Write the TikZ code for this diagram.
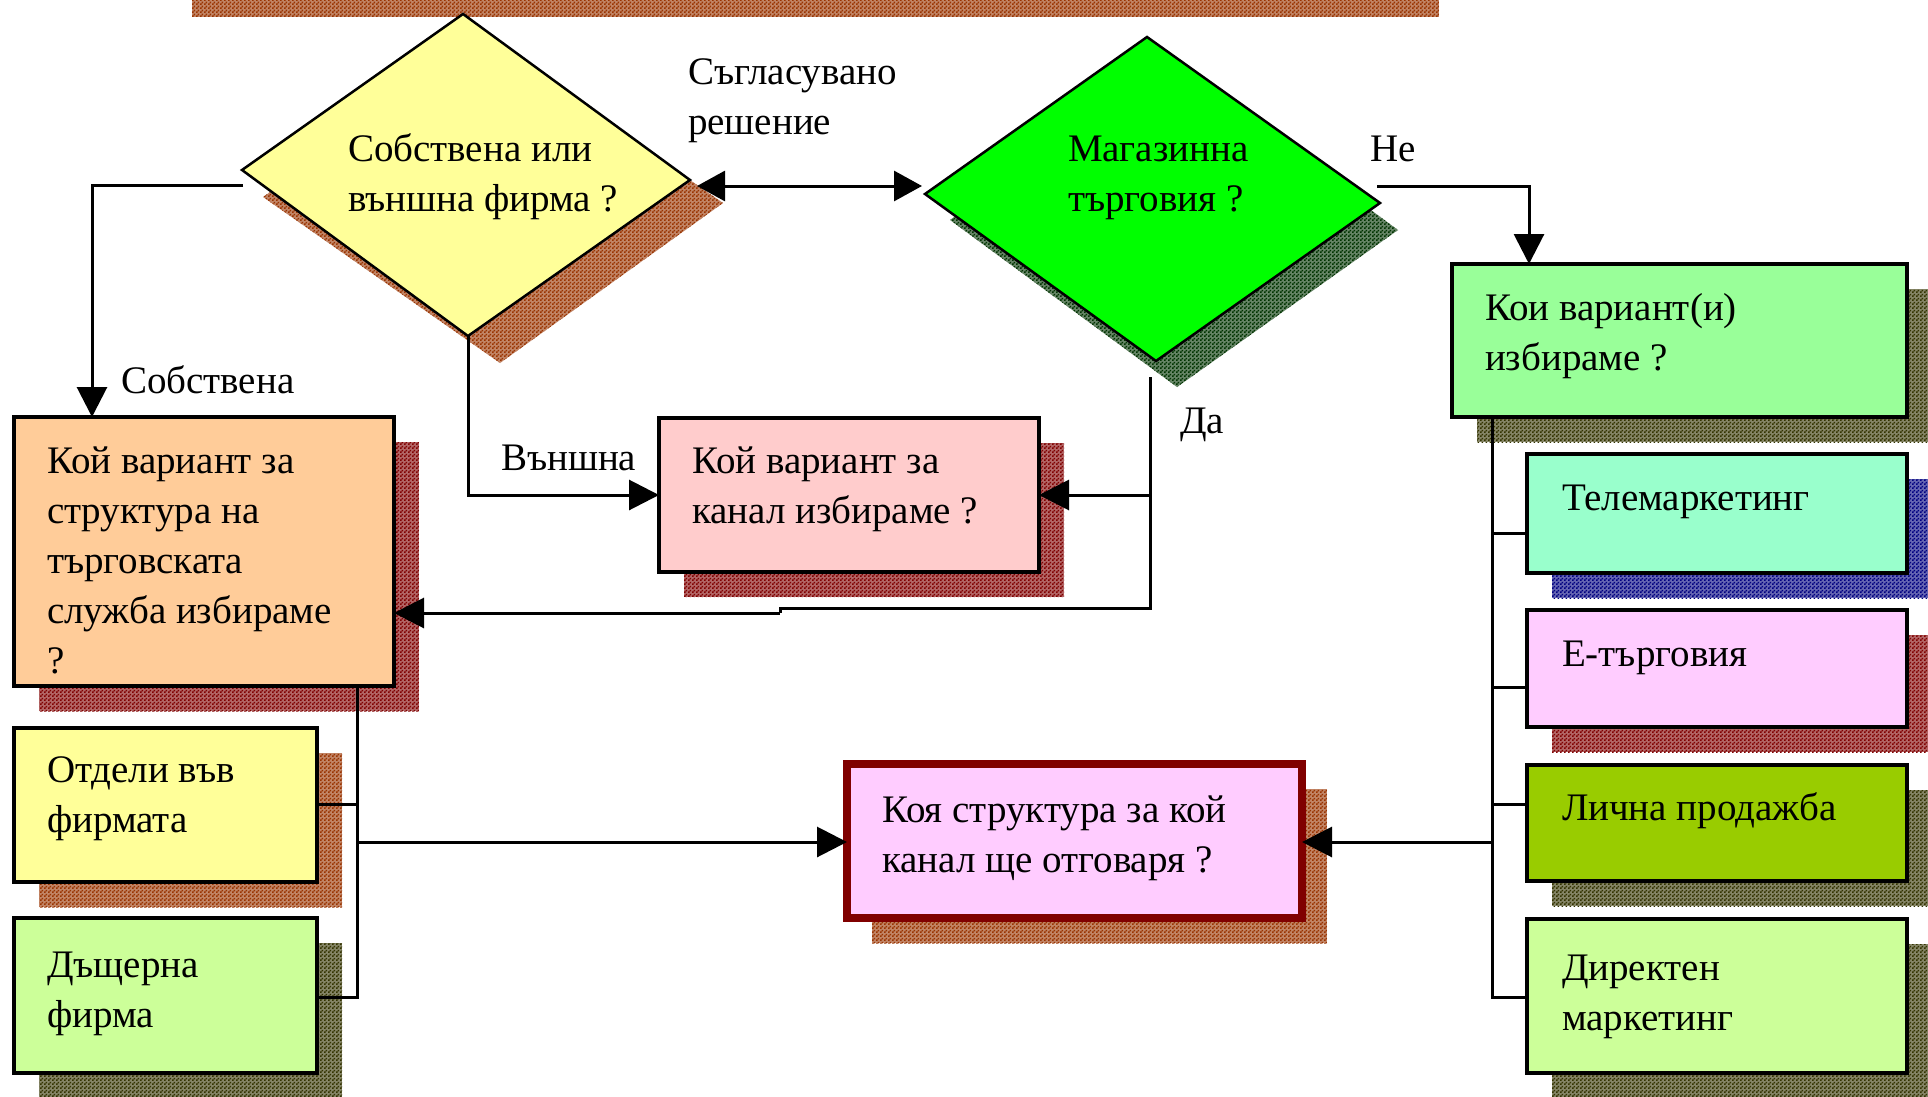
\documentclass[tikz,border=0pt]{standalone}
\usepackage{fontspec}
\setmainfont{Liberation Serif}
\usetikzlibrary{arrows.meta,patterns.meta,backgrounds,fit}

% fine two-colour checker used for the hatched drop shadows
\pgfdeclarepattern{
  name=checker,
  type=uncolored,
  bottom left={\pgfpointorigin},
  top right={\pgfpoint{4pt}{4pt}},
  tile size={\pgfpoint{4pt}{4pt}},
  code={
    \pgfpathrectangle{\pgfpointorigin}{\pgfpoint{2pt}{2pt}}
    \pgfpathrectangle{\pgfpoint{2pt}{2pt}}{\pgfpoint{2pt}{2pt}}
    \pgfusepath{fill}
  }
}

\definecolor{cYellow}{HTML}{FFFF99}
\definecolor{cGreen}{HTML}{00FF00}
\definecolor{cOrange}{HTML}{FFCC99}
\definecolor{cRose}{HTML}{FFCCCC}
\definecolor{cLGreen}{HTML}{99FF99}
\definecolor{cAqua}{HTML}{99FFCC}
\definecolor{cLilac}{HTML}{FFCCFF}
\definecolor{cOlive}{HTML}{99CC00}
\definecolor{cPale}{HTML}{CCFF99}
\definecolor{cFrame}{HTML}{800000}
\definecolor{shRed}{HTML}{800000}
\definecolor{shBrown}{HTML}{993300}
\definecolor{shOlive}{HTML}{333300}
\definecolor{shNavy}{HTML}{000080}
\definecolor{shDkGreen}{HTML}{003300}

% left-aligned block of lines whose reference point is the first baseline
\newcommand\mlines[1]{\vtop{\baselineskip=50pt\halign{##\hfil\cr#1\crcr}}}

\begin{document}
\begin{tikzpicture}[x=1pt,y=-1pt,
  font=\fontsize{39pt}{50pt}\selectfont,
  box/.style={draw=black, line width=3.5pt, inner sep=0pt, outer sep=0pt},
  txt/.style={anchor=base west, inner sep=0pt, outer sep=0pt, text=black},
  conn/.style={draw=black, line width=3pt},
  arr/.style={conn, -{Triangle[length=30pt,width=30pt]}},
  darr/.style={conn, {Triangle[length=28pt,width=30pt]}-{Triangle[length=28pt,width=30pt]}},
  shadowtint/.style={fill=#1!60!white},
  shadowfill/.style={pattern=checker, pattern color=#1},
  diam/.style={draw=black, line width=2.5pt, line join=miter}]

\useasboundingbox (0,0) rectangle (1928,1097);

% ---- decision diamonds
\coordinate (d1-w) at (242,170);
\coordinate (d1-n) at (463,14);
\coordinate (d1-e) at (690,180);
\coordinate (d1-s) at (468,336);
\coordinate (d2-w) at (925,194);
\coordinate (d2-n) at (1147,37);
\coordinate (d2-e) at (1380,203);
\coordinate (d2-s) at (1156,361);
\filldraw[diam, fill=cYellow] (d1-w) -- (d1-n) -- (d1-e) -- (d1-s) -- cycle;
\filldraw[diam, fill=cGreen] (d2-w) -- (d2-n) -- (d2-e) -- (d2-s) -- cycle;
\node[txt] (d1-t) at (348,162) {\mlines{Собствена или\cr външна фирма ?}};
\node[txt] (d2-t) at (1068,162) {\mlines{Магазинна\cr търговия ?}};

% ---- boxes
\node[box, fill=cOrange, fit={(14,417) (394,686)}] (org) {};
\node[box, fill=cRose,   fit={(659,418) (1039,572)}] (pink) {};
\node[box, fill=cLGreen, fit={(1452,264) (1907,417)}] (gbox) {};
\node[box, fill=cAqua,   fit={(1527,454) (1907,573)}] (tel) {};
\node[box, fill=cLilac,  fit={(1527,610) (1907,727)}] (etrg) {};
\node[box, fill=cOlive,  fit={(1527,765) (1907,881)}] (lich) {};
\node[box, fill=cPale,   fit={(1527,919) (1907,1073)}] (dir) {};
\node[box, fill=cYellow, fit={(14,728) (317,882)}] (otd) {};
\node[box, fill=cPale,   fit={(14,918) (317,1073)}] (dau) {};
\node[box, draw=cFrame, line width=8pt, fill=cLilac, fit={(847,764) (1302,918)}] (ctr) {};

\node[txt] (org-t)  at (47,473)   {\mlines{Кой вариант за\cr структура на\cr търговската\cr служба избираме\cr ?}};
\node[txt] (pink-t) at (692,473)  {\mlines{Кой вариант за\cr канал избираме ?}};
\node[txt] (gbox-t) at (1485,320) {\mlines{Кои вариант(и)\cr избираме ?}};
\node[txt] (tel-t)  at (1562,510) {\mlines{Телемаркетинг}};
\node[txt] (etrg-t) at (1562,666) {\mlines{Е-търговия}};
\node[txt] (lich-t) at (1562,820) {\mlines{Лична продажба}};
\node[txt] (dir-t)  at (1562,980) {\mlines{Директен\cr маркетинг}};
\node[txt] (otd-t)  at (47,782)   {\mlines{Отдели във\cr фирмата}};
\node[txt] (dau-t)  at (47,977)   {\mlines{Дъщерна\cr фирма}};
\node[txt] (ctr-t)  at (882,822)  {\mlines{Коя структура за кой\cr канал ще отговаря ?}};

% ---- connector labels
\node[txt] (lab-agree) at (688,85)   {\mlines{Съгласувано\cr решение}};
\node[txt] (lab-own)   at (121,393)  {Собствена};
\node[txt] (lab-ext)   at (501,470)  {Външна};
\node[txt] (lab-yes)   at (1180,433) {Да};
\node[txt] (lab-no)    at (1370,162) {Не};

% ---- drop shadows and hatched strip behind everything
\begin{scope}[on background layer]
  \fill[white] (0,0) rectangle (1928,1097);
  \foreach \c in {shadowtint, shadowfill}{
    \fill[\c=shBrown] (192,0) rectangle (1439,17);
    \fill[\c=shBrown] (263,197) -- (488,40) -- (723,203) -- (500,363) -- cycle;
    \fill[\c=shDkGreen] (950,220) -- (1170,62) -- (1398,230) -- (1177,387) -- cycle;
  }
  \foreach \n/\c in {org/shRed, pink/shRed, gbox/shOlive, tel/shNavy, etrg/shRed,
                     lich/shOlive, dir/shOlive, otd/shBrown, dau/shOlive, ctr/shBrown}{
    \fill[shadowtint=\c] ([shift={(25,25)}]\n.north west) rectangle ([shift={(25,25)}]\n.south east);
    \fill[shadowfill=\c] ([shift={(25,25)}]\n.north west) rectangle ([shift={(25,25)}]\n.south east);
  }
\end{scope}

% ---- connection points and bends
\coordinate (d1-wp) at (243,185);
\coordinate (k1) at (92,185);
\coordinate (k2) at (468,495);
\coordinate (d1-ep) at (697,186);
\coordinate (d2-wp) at (922,186);
\coordinate (d2-ep) at (1377,186);
\coordinate (k4) at (1529,186);
\coordinate (d2-sp) at (1150,377);
\coordinate (k5) at (1150,495);
\coordinate (k6) at (1150,608);
\coordinate (k7) at (780,608);
\coordinate (k8) at (780,613);
\coordinate (lb1) at (357,804);
\coordinate (lb2) at (357,997);
\coordinate (lb3) at (357,842);
\coordinate (rb1) at (1492,533);
\coordinate (rb2) at (1492,687);
\coordinate (rb3) at (1492,804);
\coordinate (rb4) at (1492,997);
\coordinate (rb5) at (1492,842);

% ---- connectors
\draw[arr] (d1-wp) -- (k1) -- (k1 |- org.north);
\draw[arr] (d1-s) -- (k2) -- (k2 -| pink.west);
\draw[darr] (d1-ep) -- (d2-wp);
\draw[arr] (d2-ep) -- (k4) -- (k4 |- gbox.north);
\draw[conn] (d2-sp) -- (k6) -- (k7) -- (k8);
\draw[arr] (k8) -- (k8 -| org.east);
\draw[arr] (k5) -- (k5 -| pink.east);

\draw[conn] (org.south -| lb1) -- (lb2) -- (lb2 -| dau.east);
\draw[conn] (lb1) -- (lb1 -| otd.east);
\draw[arr] (lb3) -- (lb3 -| ctr.west);

\draw[conn] (gbox.south -| rb1) -- (rb4) -- (rb4 -| dir.west);
\draw[conn] (rb1) -- (rb1 -| tel.west);
\draw[conn] (rb2) -- (rb2 -| etrg.west);
\draw[conn] (rb3) -- (rb3 -| lich.west);
\draw[arr] (rb5) -- (rb5 -| ctr.east);
\end{tikzpicture}
\end{document}
